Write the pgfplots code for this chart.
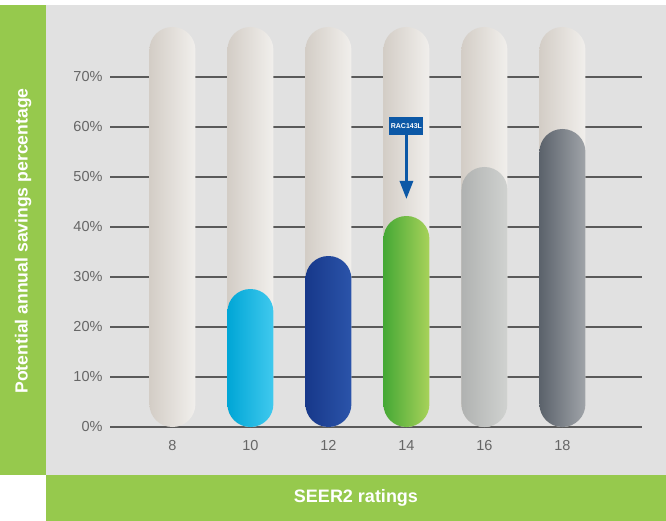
\documentclass[border=0pt]{standalone}
\usepackage{fontspec}
\setmainfont{Liberation Sans}
\usepackage{pgfplots}
\pgfplotsset{compat=1.18}
\usetikzlibrary{arrows.meta}
\definecolor{panel}{HTML}{E1E1E1}
\definecolor{brandgreen}{HTML}{96C94D}
\definecolor{gridc}{HTML}{5A5A5A}
\definecolor{tickc}{HTML}{666666}
\definecolor{capL}{HTML}{D3CDC6}
\definecolor{capM}{HTML}{E5E2DE}
\definecolor{capR}{HTML}{F1EFEC}
\definecolor{cyL}{HTML}{00A6D6}
\definecolor{cyM}{HTML}{05B1DD}
\definecolor{cyR}{HTML}{40C9EE}
\definecolor{dbL}{HTML}{17388A}
\definecolor{dbM}{HTML}{1E449D}
\definecolor{dbR}{HTML}{2B54AA}
\definecolor{grL}{HTML}{45A835}
\definecolor{grM}{HTML}{7CC246}
\definecolor{grR}{HTML}{A8D25A}
\definecolor{lgL}{HTML}{B0B2B1}
\definecolor{lgM}{HTML}{BFC1C0}
\definecolor{lgR}{HTML}{D0D2D0}
\definecolor{dgL}{HTML}{5B626B}
\definecolor{dgM}{HTML}{8D9196}
\definecolor{dgR}{HTML}{A0A4A9}
\definecolor{blueC}{HTML}{0C58A6}
\begin{document}
\begin{tikzpicture}
\fill[white] (0pt,0pt) rectangle (666pt,-521pt);
\fill[brandgreen] (0pt,-5pt) rectangle (46pt,-475pt);
\fill[panel] (46pt,-5pt) rectangle (666pt,-475pt);
\fill[brandgreen] (46pt,-475pt) rectangle (666pt,-521pt);
\node[rotate=90, text=white, font=\bfseries\fontsize{17.6}{18}\selectfont] at (23pt,-241pt) {Potential annual savings percentage};
\node[text=white, font=\bfseries\fontsize{18}{18}\selectfont] at (356pt,-498pt) {SEER2 ratings};
\begin{axis}[
  at={(110pt,-427pt)}, anchor=south west, scale only axis,
  width=532pt, height=400pt,
  xmin=-0.80, xmax=6.02, ymin=0, ymax=80, clip=false,
  axis line style={draw=none}, major tick style={draw=none},
  ytick={0,10,...,70},
  yticklabels={0\%,10\%,20\%,30\%,40\%,50\%,60\%,70\%},
  xtick={0,...,5}, xticklabels={8,10,12,14,16,18},
  ticklabel style={text=tickc, font=\fontsize{14.5}{15}\selectfont},
  yticklabel style={xshift=-4pt},
  xticklabel style={yshift=-6pt},
  ybar, bar width=46pt, bar shift=0pt,
  every axis plot/.append style={draw=none, rounded corners=22.9pt},
]
\pgfplotsinvokeforeach{0,10,...,70}{
  \draw[gridc, line width=1.2pt] (axis cs:-0.80,#1) -- (axis cs:6.02,#1);
}
\addplot[left color=capL, middle color=capM, right color=capR] coordinates {(0,80)};
\addplot[left color=capL, middle color=capM, right color=capR] coordinates {(1,80)};
\addplot[left color=capL, middle color=capM, right color=capR] coordinates {(2,80)};
\addplot[left color=capL, middle color=capM, right color=capR] coordinates {(3,80)};
\addplot[left color=capL, middle color=capM, right color=capR] coordinates {(4,80)};
\addplot[left color=capL, middle color=capM, right color=capR] coordinates {(5,80)};
\addplot[left color=cyL, middle color=cyM, right color=cyR] coordinates {(1,27.6)};
\addplot[left color=dbL, middle color=dbM, right color=dbR] coordinates {(2,34.2)};
\addplot[left color=grL, middle color=grM, right color=grR] coordinates {(3,42.2)};
\addplot[left color=lgL, middle color=lgM, right color=lgR] coordinates {(4,52)};
\addplot[left color=dgL, middle color=dgM, right color=dgR] coordinates {(5,59.6)};
\draw[blueC, line width=3pt, -{Triangle[width=13pt,length=18pt]}] (axis cs:3,58.4) -- (axis cs:3,45.6);
\node[fill=blueC, text=white, font=\bfseries\fontsize{7}{7}\selectfont, minimum width=34pt, minimum height=18pt, inner sep=1pt] at (axis cs:3,60.2) {RAC143L};
\end{axis}
\end{tikzpicture}
\end{document}
